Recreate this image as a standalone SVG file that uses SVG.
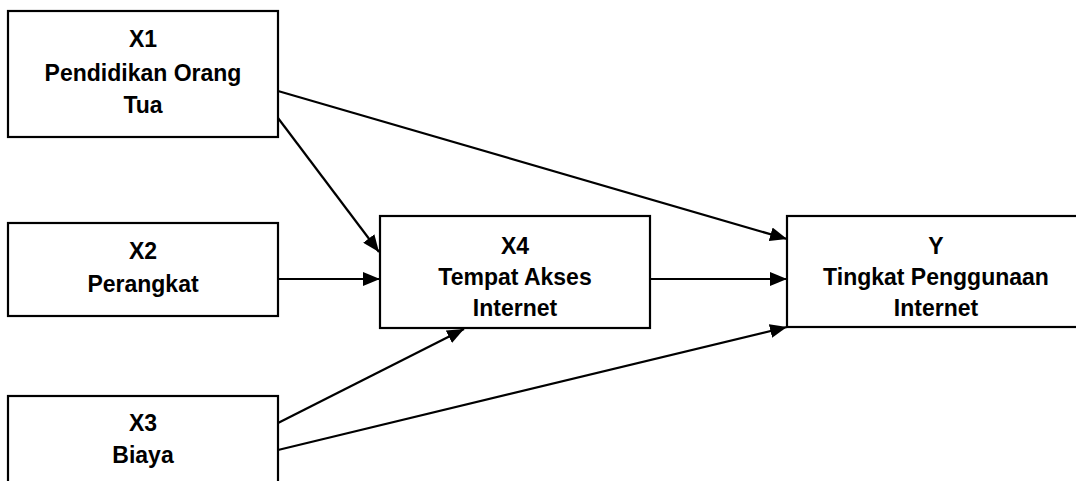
<svg xmlns="http://www.w3.org/2000/svg" width="1076" height="481" viewBox="0 0 1076 481">
<style>
.box{fill:#fff;stroke:#000;stroke-width:2.2}
.lbl{font-family:"Liberation Sans",Arial,sans-serif;font-weight:bold;font-size:23px;fill:#000;text-anchor:middle}
.edge{stroke:#000;stroke-width:2.2;fill:none}
</style>
<defs>
<marker id="arr" markerUnits="userSpaceOnUse" markerWidth="18" markerHeight="14" viewBox="0 0 18 14" refX="17" refY="7" orient="auto">
<path d="M0,0 L17,7 L0,14 Z" fill="#000"/>
</marker>
</defs>
<rect width="1076" height="481" fill="#fff"/>
<g id="connectors">
<line class="edge" x1="278" y1="91" x2="787" y2="239" marker-end="url(#arr)"/>
<line class="edge" x1="278" y1="118" x2="379" y2="252" marker-end="url(#arr)"/>
<line class="edge" x1="278" y1="279" x2="380" y2="279" marker-end="url(#arr)"/>
<line class="edge" x1="650" y1="279" x2="787" y2="279" marker-end="url(#arr)"/>
<line class="edge" x1="278" y1="423" x2="464" y2="329" marker-end="url(#arr)"/>
<line class="edge" x1="278" y1="450" x2="787" y2="327" marker-end="url(#arr)"/>
</g>
<g id="X1">
<rect class="box" x="8" y="11" width="270" height="126"/>
<text class="lbl" x="143" y="47">X1</text>
<text class="lbl" x="143" y="81">Pendidikan Orang</text>
<text class="lbl" x="143" y="113">Tua</text>
</g>
<g id="X2">
<rect class="box" x="8" y="223" width="270" height="93"/>
<text class="lbl" x="143" y="259">X2</text>
<text class="lbl" x="143" y="292">Perangkat</text>
</g>
<g id="X3">
<rect class="box" x="8" y="396" width="270" height="100"/>
<text class="lbl" x="143" y="431">X3</text>
<text class="lbl" x="143" y="463">Biaya</text>
</g>
<g id="X4">
<rect class="box" x="380" y="216" width="270" height="112"/>
<text class="lbl" x="515" y="254">X4</text>
<text class="lbl" x="515" y="285">Tempat Akses</text>
<text class="lbl" x="515" y="316">Internet</text>
</g>
<g id="Y">
<rect class="box" x="787" y="216" width="298" height="111"/>
<text class="lbl" x="936" y="254">Y</text>
<text class="lbl" x="936" y="285">Tingkat Penggunaan</text>
<text class="lbl" x="936" y="316">Internet</text>
</g>
</svg>
